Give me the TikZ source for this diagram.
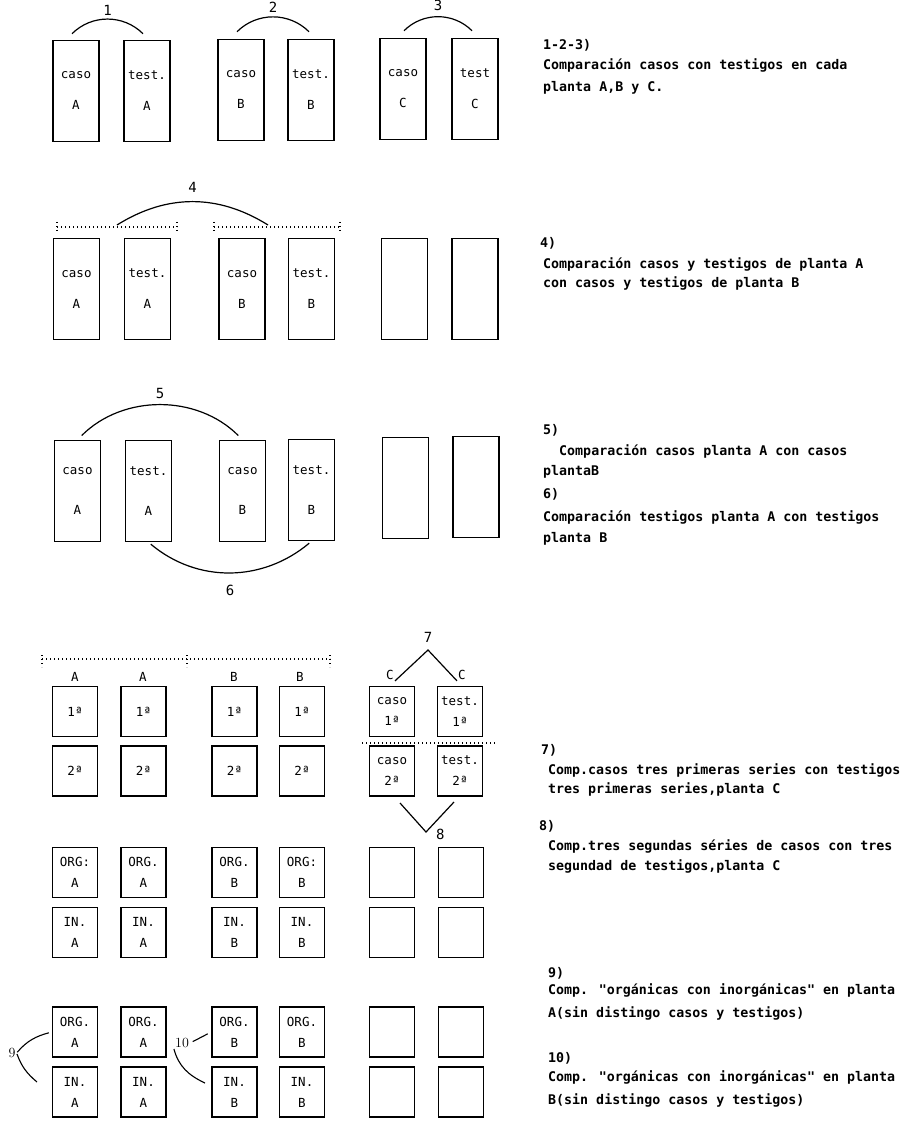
\documentclass[tikz,border=0pt]{standalone}
\usepackage{fontspec}
\usepackage{tikz}
\newfontfamily\typer{DejaVu Sans Mono}

\begin{document}
\begin{tikzpicture}[x=1pt,y=1pt,
        tall/.style={draw, line width=1.5pt, minimum width=46pt, minimum height=101pt, inner sep=0pt, align=center, font=\typer\fontsize{12.5}{#1}\selectfont},
        tall/.default=31,
        sq/.style={draw, line width=1.5pt, minimum width=45pt, minimum height=50pt, inner sep=0pt, align=center, font=\typer\fontsize{12.5}{21}\selectfont},
        link/.style={line width=1.2pt, shorten <=6pt, shorten >=6pt},
        dotline/.style={line width=1.4pt, dash pattern=on 1.4pt off 2.6pt},
        tag/.style={font=\typer\fontsize{14}{14}\selectfont, inner sep=1pt},
        small/.style={font=\typer\fontsize{12.5}{12.5}\selectfont, inner sep=1pt},
        note/.style={anchor=base west, inner sep=0pt, font=\typer\bfseries\fontsize{13.3}{16}\selectfont}]
            \useasboundingbox (0,0) rectangle (914,-1131);
            \node[tall] (ca1) at (76,-91) {caso\\A};
            \node[tall] (ta1) at (147,-91) {test.\\A};
            \node[tall] (cb1) at (241,-90) {caso\\B};
            \node[tall] (tb1) at (311,-90) {test.\\B};
            \node[tall] (cc1) at (403,-89) {caso\\C};
            \node[tall] (tc1) at (475,-89) {test\\C};
            \draw[link, shorten <=0pt, shorten >=0pt] ([shift={(-4,6)}]ca1.north) to[out=45,in=135] node[tag,above=2pt]{1} ([shift={(-4,6)}]ta1.north);
            \draw[link, shorten <=0pt, shorten >=0pt] ([shift={(-4,7)}]cb1.north) to[out=45,in=135] node[tag,above=3pt]{2} ([shift={(-2,7)}]tb1.north);
            \draw[link, shorten <=0pt, shorten >=0pt] ([shift={(1,7)}]cc1.north) to[out=45,in=135] node[tag,above=4pt]{3} ([shift={(-3,7)}]tc1.north);
            \node[tall] (ca2) at (76.5,-289) {caso\\A};
            \node[tall] (ta2) at (147.5,-289) {test.\\A};
            \node[tall] (cb2) at (242,-289) {caso\\B};
            \node[tall] (tb2) at (311.5,-289) {test.\\B};
            \node[tall] (cc2) at (404.5,-289) {};
            \node[tall] (tc2) at (475,-289) {};
            \coordinate (pa1) at (57,-227); \coordinate (pa2) at (177,-227);
            \coordinate (pb1) at (214,-227); \coordinate (pb2) at (340,-227);
            \draw[dotline] (pa1) -- (pa2) (pb1) -- (pb2);
            \foreach \p in {pa1,pa2,pb1,pb2} \draw[dotline] ([yshift=5pt]\p) -- ([yshift=-5pt]\p);
            \coordinate (qa) at (117,-225); \coordinate (qb) at (268,-225);
            \draw[link, shorten <=0pt, shorten >=0pt] (qa) to[out=32,in=148] node[tag,above=7pt]{4} (qb);
            \node[tall=40] (ca3) at (77.5,-491) {caso\\A};
            \node[tall=40] (ta3) at (148.5,-491) {test.\\A};
            \node[tall=40] (cb3) at (242.5,-491) {caso\\B};
            \node[tall=40] (tb3) at (311.5,-490) {test.\\B};
            \node[tall] (cc3) at (405.5,-488) {};
            \node[tall] (tc3) at (476,-487) {};
            \draw[link] (ca3.north) to[out=45,in=135] node[tag,above=5pt]{5} (cb3.north);
            \draw[link, shorten <=3pt, shorten >=3pt] (ta3.south) to[out=-40,in=-140] node[tag,below=11pt]{6} (tb3.south);
            \coordinate (pc1) at (42,-659); \coordinate (pc2) at (187,-659); \coordinate (pc3) at (330,-659);
            \draw[dotline] (pc1) -- (pc3);
            \foreach \p in {pc1,pc2,pc3} \draw[dotline] ([yshift=4pt]\p) -- ([yshift=-8pt]\p);
            \node[small] (la1) at (75,-677) {A};
            \node[small] (la2) at (143,-677) {A};
            \node[small] (lb1) at (234,-677) {B};
            \node[small] (lb2) at (300,-677) {B};
            \node[sq] (s11) at (75,-711.5) {1ª};
            \node[sq] (s12) at (143.5,-711.5) {1ª};
            \node[sq] (s13) at (234.5,-711.5) {1ª};
            \node[sq] (s14) at (302,-711.5) {1ª};
            \node[sq] (s15) at (392,-711.5) {caso\\1ª};
            \node[sq] (s16) at (460,-711.5) {test.\\1ª};
            \node[sq] (s21) at (75,-771) {2ª};
            \node[sq] (s22) at (143.5,-771) {2ª};
            \node[sq] (s23) at (234.5,-771) {2ª};
            \node[sq] (s24) at (302,-771) {2ª};
            \node[sq] (s25) at (392,-771) {caso\\2ª};
            \node[sq] (s26) at (460,-771) {test.\\2ª};
            \coordinate (pd1) at (362,-743); \coordinate (pd2) at (495,-743);
            \draw[dotline] (pd1) -- (pd2);
            \node[small] (c7a) at (390,-675) {C};
            \node[small] (c7b) at (462,-675) {C};
            \coordinate (v7) at (428,-650);
            \node[tag] (n7) at (428,-637) {7};
            \draw[line width=1.2pt] (c7a.south east) -- (v7) -- (c7b.south west);
            \coordinate (w8a) at (400,-803); \coordinate (v8) at (426,-832); \coordinate (w8b) at (454,-802);
            \draw[line width=1.2pt] (w8a) -- (v8) -- (w8b);
            \node[tag, anchor=west] (n8) at (435,-834) {8};
            \node[sq] (o51) at (75,-872.5) {ORG:\\A};
            \node[sq] (o52) at (143.5,-872.5) {ORG.\\A};
            \node[sq] (o53) at (234.5,-872.5) {ORG.\\B};
            \node[sq] (o54) at (302,-872.5) {ORG:\\B};
            \node[sq] (i51) at (75,-932.5) {IN.\\A};
            \node[sq] (i52) at (143.5,-932.5) {IN.\\A};
            \node[sq] (i53) at (234.5,-932.5) {IN.\\B};
            \node[sq] (i54) at (302,-932.5) {IN.\\B};
            \node[sq] (o61) at (75,-1032) {ORG.\\A};
            \node[sq] (o62) at (143.5,-1032) {ORG.\\A};
            \node[sq] (o63) at (234.5,-1032) {ORG.\\B};
            \node[sq] (o64) at (302,-1032) {ORG.\\B};
            \node[sq] (i61) at (75,-1092) {IN.\\A};
            \node[sq] (i62) at (143.5,-1092) {IN.\\A};
            \node[sq] (i63) at (234.5,-1092) {IN.\\B};
            \node[sq] (i64) at (302,-1092) {IN.\\B};
            \foreach \y/\n in {872.5/5a, 932.5/5b, 1032/6a, 1092/6b} {
                \node[sq] (e\n1) at (392,-\y) {};
                \node[sq] (e\n2) at (461,-\y) {};
            }
            \node[font=\fontsize{14}{14}\selectfont, inner sep=1pt] (n9) at (12,-1053) {9};
            \coordinate (k9) at (37,-1082);
            \draw[line width=1.1pt, shorten <=1pt, shorten >=3pt] (n9.east) to[out=50,in=195] (o61.west);
            \draw[line width=1.1pt, shorten <=1pt] (n9.east) to[out=-70,in=140] (k9);
            \node[font=\fontsize{14}{14}\selectfont, inner sep=1pt] (n10) at (182,-1043) {10};
            \coordinate (k10) at (205,-1083);
            \draw[line width=1.1pt, shorten <=3pt, shorten >=4pt] (n10.east) -- (o63.west);
            \draw[line width=1.1pt] (n10.south west) to[out=-75,in=155] (k10);
            \node[note] (t1) at (543,-49.5) {1-2-3)};
            \node[note] (t2) at (543,-69.5) {Comparación casos con testigos en cada};
            \node[note] (t3) at (543,-91.5) {planta A,B y C.};
            \node[note] (t4) at (540,-247.5) {4)};
            \node[note] (t5) at (543,-268.5) {Comparación casos y testigos de planta A};
            \node[note] (t6) at (543,-287.5) {con casos y testigos de planta B};
            \node[note] (t7) at (543,-434.5) {5)};
            \node[note] (t8) at (543,-455.5) {\phantom{xx}Comparación casos planta A con casos};
            \node[note] (t9) at (543,-475.5) {plantaB};
            \node[note] (t10) at (543,-498.5) {6)};
            \node[note] (t11) at (543,-521.5) {Comparación testigos planta A con testigos};
            \node[note] (t12) at (543,-542.5) {planta B};
            \node[note] (t13) at (541,-754.5) {7)};
            \node[note] (t14) at (548,-774.5) {Comp.casos tres primeras series con testigos};
            \node[note] (t15) at (548,-793.5) {tres primeras series,planta C};
            \node[note] (t16) at (539,-830.5) {8)};
            \node[note] (t17) at (548,-850.5) {Comp.tres segundas séries de casos con tres};
            \node[note] (t18) at (548,-870.5) {segundad de testigos,planta C};
            \node[note] (t19) at (548,-977.5) {9)};
            \node[note] (t20) at (548,-994.5) {Comp. "orgánicas con inorgánicas" en planta};
            \node[note] (t21) at (548,-1017.5) {A(sin distingo casos y testigos)};
            \node[note] (t22) at (548,-1062.5) {10)};
            \node[note] (t23) at (548,-1081.5) {Comp. "orgánicas con inorgánicas" en planta};
            \node[note] (t24) at (548,-1104.5) {B(sin distingo casos y testigos)};
        \end{tikzpicture}
\end{document}
